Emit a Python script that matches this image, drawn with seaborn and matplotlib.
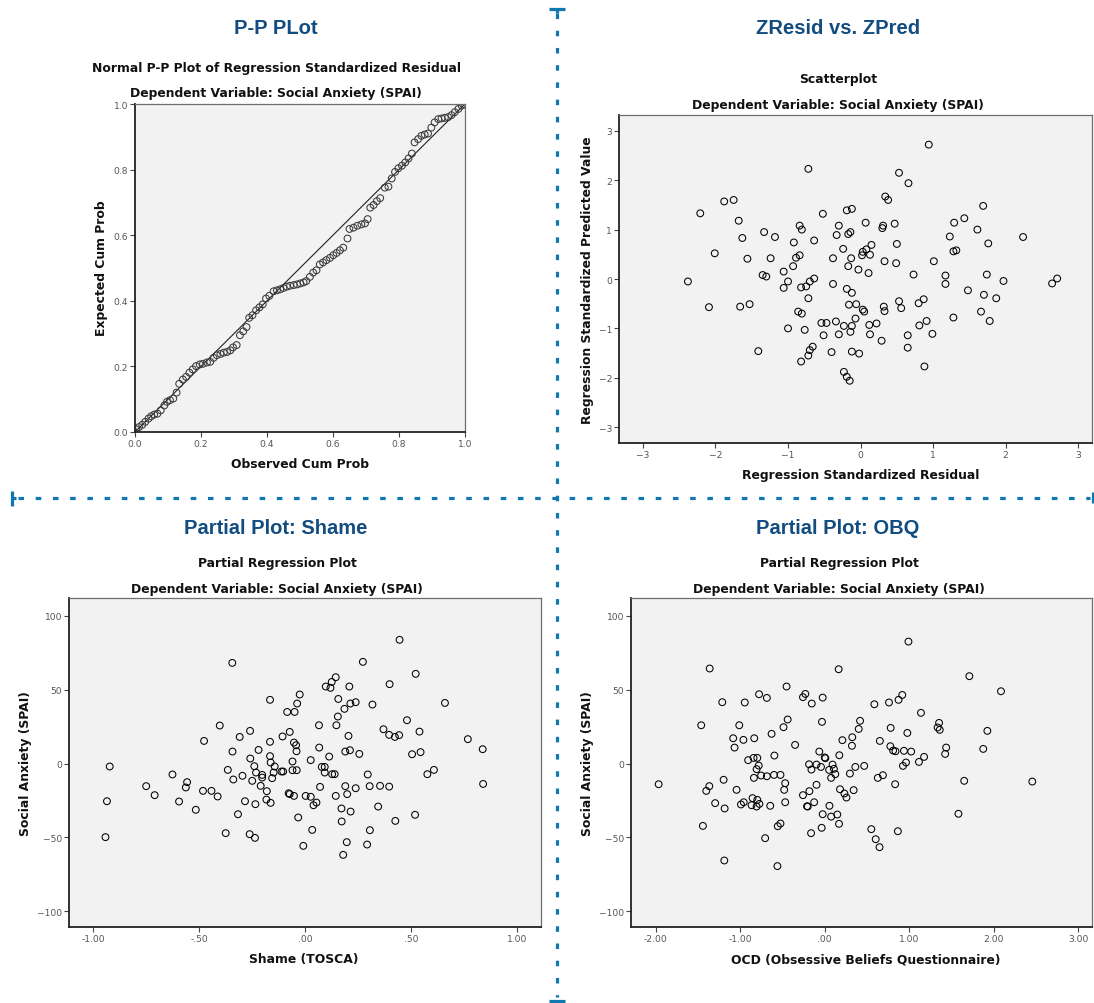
import matplotlib
matplotlib.use("Agg")
import matplotlib.pyplot as plt
from matplotlib.lines import Line2D
import seaborn as sns

W, H = 1094, 1004

# ---- P-P plot (observed vs expected cumulative probability)
pp_observed = [0.004, 0.012, 0.022, 0.031, 0.041, 0.049, 0.058, 0.068, 0.078, 0.089,
               0.097, 0.106, 0.116, 0.126, 0.134, 0.145, 0.155, 0.165, 0.175, 0.185,
               0.196, 0.206, 0.218, 0.228, 0.238, 0.248, 0.259, 0.269, 0.279, 0.289,
               0.297, 0.308, 0.318, 0.328, 0.338, 0.346, 0.356, 0.367, 0.377, 0.387,
               0.397, 0.407, 0.420, 0.430, 0.440, 0.450, 0.460, 0.470, 0.481, 0.491,
               0.501, 0.511, 0.519, 0.530, 0.540, 0.550, 0.560, 0.570, 0.580, 0.591,
               0.601, 0.611, 0.621, 0.631, 0.644, 0.650, 0.662, 0.674, 0.686, 0.697,
               0.705, 0.713, 0.723, 0.733, 0.743, 0.757, 0.768, 0.778, 0.788, 0.798,
               0.809, 0.819, 0.829, 0.839, 0.847, 0.858, 0.868, 0.878, 0.888, 0.898,
               0.908, 0.919, 0.929, 0.939, 0.949, 0.959, 0.969, 0.980, 0.990, 0.998]
pp_expected = [0.008, 0.015, 0.022, 0.031, 0.041, 0.048, 0.053, 0.056, 0.066, 0.081,
               0.092, 0.097, 0.102, 0.120, 0.147, 0.160, 0.168, 0.181, 0.191, 0.201,
               0.206, 0.208, 0.212, 0.214, 0.226, 0.234, 0.238, 0.242, 0.244, 0.249,
               0.258, 0.265, 0.295, 0.307, 0.320, 0.348, 0.356, 0.371, 0.380, 0.389,
               0.407, 0.415, 0.429, 0.432, 0.435, 0.439, 0.443, 0.446, 0.448, 0.450,
               0.453, 0.456, 0.460, 0.473, 0.486, 0.493, 0.511, 0.517, 0.524, 0.531,
               0.539, 0.546, 0.554, 0.562, 0.590, 0.619, 0.623, 0.629, 0.633, 0.636,
               0.649, 0.684, 0.692, 0.704, 0.713, 0.745, 0.748, 0.773, 0.793, 0.804,
               0.812, 0.822, 0.834, 0.849, 0.883, 0.893, 0.903, 0.907, 0.910, 0.928,
               0.944, 0.954, 0.956, 0.958, 0.960, 0.966, 0.975, 0.985, 0.995, 0.999]

# ---- ZResid vs. ZPred
zresid = [0.94, -0.72, 0.53, 0.66, 0.34, 0.38, -1.88, -1.75, -2.21, -1.68,
          -1.63, -1.33, -1.18, -2.01, -1.56, -1.24, -2.38, -1.35, -1.30, -1.06,
          -1.00, -1.06, -2.09, -1.66, -1.53, -1.41, -0.92, -0.84, -0.81, -0.64,
          -0.52, -0.89, -0.84, -0.93, -0.82, -0.75, -0.70, -0.64, -0.72, -0.86,
          -0.81, -1.00, -0.77, -0.51, -0.66, -0.70, -0.72, -0.82, -0.54, -0.47,
          -0.34, -0.40, -0.30, -0.33, -0.19, -0.12, -0.17, -0.14, -0.24, -0.38,
          -0.13, -0.17, -0.03, -0.38, -0.19, -0.12, -0.16, -0.06, 0.03, 0.05,
          -0.07, -0.23, -0.12, -0.14, -0.30, -0.12, -0.02, -0.23, -0.19, -0.15,
          0.07, 0.03, 0.08, 0.02, 0.15, 0.13, 0.11, 0.31, 0.30, 0.47,
          0.33, 0.50, 0.49, 0.12, 0.22, 0.13, 0.32, 0.33, 0.29, 0.53,
          0.56, 0.65, 0.65, 0.73, 0.80, 0.87, 0.81, 0.91, 0.99, 0.88,
          1.01, 1.17, 1.17, 1.28, 1.23, 1.29, 1.43, 1.28, 1.32, 1.48,
          1.61, 1.69, 1.76, 1.74, 1.70, 1.66, 1.78, 1.87, 1.97, 2.24,
          2.64, 2.71]
zpred = [2.72, 2.23, 2.15, 1.94, 1.67, 1.60, 1.57, 1.60, 1.33, 1.18,
         0.83, 0.95, 0.85, 0.52, 0.41, 0.42, -0.05, 0.08, 0.05, 0.15,
         -0.05, -0.18, -0.57, -0.56, -0.51, -1.46, 0.74, 1.08, 1.00, 0.78,
         1.32, 0.43, 0.48, 0.26, -0.17, -0.15, -0.05, 0.01, -0.39, -0.66,
         -0.70, -1.00, -1.03, -1.14, -1.37, -1.44, -1.55, -1.67, -0.89, -0.89,
         -0.86, -1.48, 1.08, 0.89, 1.39, 1.42, 0.91, 0.95, 0.61, 0.42,
         0.42, 0.26, 0.19, -0.10, -0.20, -0.28, -0.52, -0.51, -0.62, -0.66,
         -0.80, -0.95, -0.95, -1.07, -1.12, -1.47, -1.51, -1.88, -1.98, -2.06,
         1.14, 0.55, 0.60, 0.48, 0.69, 0.49, 0.12, 1.08, 1.03, 1.12,
         0.36, 0.71, 0.32, -0.93, -0.90, -1.12, -0.56, -0.65, -1.25, -0.45,
         -0.59, -1.14, -1.39, 0.09, -0.49, -0.41, -0.94, -0.85, -1.11, -1.77,
         0.36, 0.07, -0.10, -0.78, 0.86, 1.14, 1.23, 0.56, 0.58, -0.23,
         1.00, 1.48, 0.72, 0.09, -0.32, -0.66, -0.85, -0.39, -0.04, 0.85,
         -0.09, 0.01]

# ---- Partial plot: Shame
shame_x = [0.446, -0.343, 0.273, 0.522, 0.145, 0.098, 0.120, 0.126, 0.209, 0.399,
           -0.025, -0.165, -0.037, -0.084, -0.049, 0.157, 0.186, 0.214, 0.239, 0.318,
           0.660, 0.155, 0.148, 0.066, 0.481, 0.370, 0.397, 0.424, 0.444, 0.540,
           0.768, 0.838, 0.505, 0.545, 0.205, 0.190, 0.212, 0.256, 0.114, 0.027,
           0.067, -0.402, -0.259, -0.308, -0.476, -0.165, -0.106, -0.072, -0.052, -0.042,
           -0.040, -0.219, -0.342, -0.258, -0.165, -0.162, -0.143, -0.059, -0.239, -0.364,
           -0.231, -0.148, -0.111, -0.103, -0.059, -0.039, -0.202, -0.202, -0.155, -0.295,
           -0.338, -0.249, -0.625, -0.921, -0.749, -0.709, -0.556, -0.562, -0.481, -0.441,
           -0.412, -0.594, -0.515, -0.934, -0.941, -0.209, -0.180, -0.182, -0.162, -0.234,
           -0.283, -0.316, -0.374, -0.261, -0.236, -0.077, -0.072, -0.052, 0.003, 0.027,
           0.054, 0.040, 0.071, 0.079, 0.093, 0.093, 0.128, 0.140, 0.145, 0.190,
           0.199, 0.239, 0.172, 0.215, 0.173, -0.032, 0.034, -0.008, 0.197, 0.180,
           0.296, 0.305, 0.354, 0.397, 0.345, 0.306, 0.293, 0.426, 0.519, 0.577,
           0.608, 0.840]
shame_y = [83.7, 68.1, 68.8, 60.7, 58.4, 52.1, 51.2, 55.2, 52.1, 53.7,
           46.7, 43.1, 40.6, 34.9, 34.9, 43.7, 37.0, 40.6, 41.5, 39.9,
           41.0, 31.8, 25.9, 25.9, 29.3, 23.2, 19.4, 18.0, 19.2, 21.6,
           16.5, 9.7, 6.3, 7.7, 18.7, 8.1, 9.0, 6.5, 4.7, 2.3,
           10.8, 25.7, 22.1, 18.0, 15.3, 14.7, 18.3, 21.4, 14.2, 12.4,
           8.3, 9.2, 8.1, 3.4, 5.0, 0.7, -2.0, 1.4, -1.8, -4.3,
           -6.1, -6.1, -5.4, -5.4, -4.5, -4.5, -7.7, -9.5, -9.9, -8.3,
           -10.8, -11.7, -7.4, -2.0, -15.3, -21.4, -12.6, -16.2, -18.5, -18.5,
           -22.3, -25.7, -31.3, -25.5, -49.8, -15.1, -18.7, -24.4, -26.6, -27.5,
           -25.5, -34.3, -47.1, -47.8, -50.3, -20.1, -20.7, -21.9, -21.9, -22.5,
           -26.4, -28.2, -15.8, -2.3, -2.3, -6.1, -7.2, -7.2, -21.9, -15.3,
           -20.7, -16.7, -30.4, -32.5, -39.2, -36.5, -44.9, -55.7, -53.2, -61.8,
           -7.4, -15.3, -15.1, -15.6, -29.1, -45.1, -54.8, -38.8, -34.7, -7.2,
           -4.3, -13.8]

# ---- Partial plot: OBQ
obq_x = [0.990, -1.360, 0.165, 1.710, 2.084, -0.451, -0.776, -0.684, -0.257, -0.229,
         -0.153, -0.024, -1.211, -0.945, 0.587, 0.760, 0.873, 0.917, 1.138, -1.460,
         -1.010, -0.438, -0.487, -0.032, 0.418, 0.402, 0.780, 1.352, 1.335, 1.360,
         1.923, 0.977, -0.628, -1.082, -0.961, -0.833, -1.066, -0.350, 0.326, 0.322,
         0.209, 0.652, 0.776, 0.809, 0.837, 0.937, 1.022, 1.436, 1.424, 1.874,
         -0.064, -0.595, 0.173, 0.000, 0.008, -0.905, -0.841, -0.797, -0.780, -0.805,
         -0.837, -0.752, -0.684, -0.599, -0.523, -0.185, -0.097, -0.044, -0.157, 0.093,
         0.109, 0.125, 0.052, 0.076, 0.298, 0.362, 0.467, 0.628, 0.688, 0.925,
         0.961, 1.114, 1.175, 0.833, 1.649, 2.454, -1.963, -1.195, -1.364, -1.400,
         -1.042, -1.295, -1.183, -0.990, -0.957, -0.853, -0.865, -0.797, -0.805, -0.772,
         -0.644, -0.467, -0.479, -0.467, -0.097, -0.181, -0.257, -0.209, -0.201, -0.125,
         0.056, -0.024, 0.076, 0.149, 0.181, 0.233, 0.257, 0.342, 0.169, -0.036,
         -0.161, -0.523, -0.555, -0.704, -1.440, -1.187, -0.559, 0.551, 0.603, 0.648,
         0.865, 1.581]
obq_y = [82.5, 64.3, 63.8, 59.1, 48.9, 52.1, 46.9, 44.4, 44.9, 47.1,
         40.6, 44.6, 41.5, 41.3, 40.1, 41.3, 43.1, 46.4, 34.3, 25.9,
         25.9, 29.8, 24.6, 28.2, 28.9, 23.4, 24.1, 27.5, 24.4, 22.8,
         22.1, 20.7, 20.1, 17.1, 16.0, 17.1, 10.8, 12.6, 17.8, 12.0,
         15.8, 15.3, 11.7, 8.8, 8.3, 8.6, 8.1, 10.8, 6.5, 9.9,
         8.1, 5.4, 5.6, 4.1, 3.6, 2.3, 3.8, 3.8, -1.4, -3.8,
         -9.7, -8.1, -8.6, -7.7, -7.7, -0.5, -0.7, -2.3, -4.1, -0.7,
         -3.6, -7.2, -4.3, -9.7, -6.8, -2.3, -1.6, -9.7, -7.9, -1.6,
         0.7, 1.1, 4.5, -14.0, -11.7, -12.2, -14.0, -11.0, -15.3, -18.5,
         -17.8, -26.8, -30.4, -27.7, -26.2, -23.4, -28.2, -24.6, -29.1, -27.3,
         -28.6, -13.3, -17.8, -26.2, -14.4, -18.7, -21.4, -28.9, -29.1, -26.2,
         -28.6, -34.3, -35.9, -34.5, -17.4, -20.3, -23.0, -18.0, -40.8, -43.5,
         -47.1, -40.6, -42.4, -50.5, -42.2, -65.6, -69.4, -44.4, -51.2, -56.6,
         -45.8, -34.0]

pp_ticks = [0.0, 0.2, 0.4, 0.6, 0.8, 1.0]
pp_ticklabels = ["0.0", "0.2", "0.4", "0.6", "0.8", "1.0"]
z_ticks = [-3, -2, -1, 0, 1, 2, 3]
spai_ticks = [-100, -50, 0, 50, 100]
shame_ticks = [-1.0, -0.5, 0.0, 0.5, 1.0]
shame_ticklabels = ["-1.00", "-.50", ".00", ".50", "1.00"]
obq_ticks = [-2, -1, 0, 1, 2, 3]
obq_ticklabels = ["-2.00", "-1.00", ".00", "1.00", "2.00", "3.00"]

sns.set_theme(style="ticks")
plt.rcParams["font.family"] = ["DejaVu Sans"]
plt.rcParams["lines.scale_dashes"] = False

TITLE_BLUE = "#124c80"
LINE_BLUE = "#0f78b0"
SUB = dict(fontsize=8.9, fontweight="bold", color="#111111")

fig = plt.figure(figsize=(W / 100, H / 100), dpi=100)


def box(x0, y0, x1, y1):
    return [x0 / W, 1 - y1 / H, (x1 - x0) / W, (y1 - y0) / H]


def put(x, y, s, **kw):
    fig.text(x / W, 1 - y / H, s, ha="center", va="center", **kw)


def style(ax):
    ax.set_facecolor("#f2f2f2")
    for side in ["left", "bottom"]:
        ax.spines[side].set_color("#222222")
        ax.spines[side].set_linewidth(1.3)
    for side in ["top", "right"]:
        ax.spines[side].set_visible(True)
        ax.spines[side].set_color("#6e6e6e")
        ax.spines[side].set_linewidth(0.9)
    ax.tick_params(direction="out", length=3.5, width=0.8, color="#444444",
                   labelsize=6.6, labelcolor="#555555", pad=1.5)
    ax.set_xlabel("")
    ax.set_ylabel("")


def scatter(ax, x, y, ec="black"):
    sns.scatterplot(x=x, y=y, ax=ax, s=24, marker="o", facecolor="none",
                    edgecolor=ec, linewidth=0.75, legend=False)


# panel 1: P-P plot
ax1 = fig.add_axes(box(135, 105, 465, 433))
ax1.plot([0, 1], [0, 1], color="#222222", lw=0.8, zorder=1)
scatter(ax1, pp_observed, pp_expected, ec="#3a3a3a")
ax1.set_xlim(0, 1)
ax1.set_ylim(0, 1)
ax1.set_xticks(pp_ticks, pp_ticklabels)
ax1.set_yticks(pp_ticks, pp_ticklabels)
style(ax1)
put(276, 28, "P-P PLot", fontsize=14.5, fontweight="bold", color=TITLE_BLUE, family="Liberation Sans")
put(276, 69, "Normal P-P Plot of Regression Standardized Residual", **SUB)
put(276, 94, "Dependent Variable: Social Anxiety (SPAI)", **SUB)
put(300, 464, "Observed Cum Prob", **SUB)
put(102, 268, "Expected Cum Prob", rotation=90, **SUB)

# panel 2: ZResid vs. ZPred
ax2 = fig.add_axes(box(619, 116, 1092, 444))
scatter(ax2, zresid, zpred)
ax2.set_xlim(-3.33, 3.19)
ax2.set_ylim(-3.32, 3.32)
ax2.set_xticks(z_ticks)
ax2.set_yticks(z_ticks)
style(ax2)
put(838, 28, "ZResid vs. ZPred", fontsize=14.5, fontweight="bold", color=TITLE_BLUE, family="Liberation Sans")
put(838, 80, "Scatterplot", **SUB)
put(838, 105, "Dependent Variable: Social Anxiety (SPAI)", **SUB)
put(861, 475, "Regression Standardized Residual", **SUB)
put(588, 280, "Regression Standardized Predicted Value", rotation=90, **SUB)

# panel 3: partial plot, shame
ax3 = fig.add_axes(box(69, 599, 541, 928))
scatter(ax3, shame_x, shame_y)
ax3.set_xlim(-1.113, 1.113)
ax3.set_ylim(-110.6, 112)
ax3.set_xticks(shame_ticks, shame_ticklabels)
ax3.set_yticks(spai_ticks)
style(ax3)
put(276, 528, "Partial Plot: Shame", fontsize=14.5, fontweight="bold", color=TITLE_BLUE, family="Liberation Sans")
put(277, 564, "Partial Regression Plot", **SUB)
put(277, 589, "Dependent Variable: Social Anxiety (SPAI)", **SUB)
put(304, 960, "Shame (TOSCA)", **SUB)
put(26, 764, "Social Anxiety (SPAI)", rotation=90, **SUB)

# panel 4: partial plot, OBQ
ax4 = fig.add_axes(box(631, 599, 1092, 928))
scatter(ax4, obq_x, obq_y)
ax4.set_xlim(-2.29, 3.16)
ax4.set_ylim(-110.6, 112)
ax4.set_xticks(obq_ticks, obq_ticklabels)
ax4.set_yticks(spai_ticks)
style(ax4)
put(838, 528, "Partial Plot: OBQ", fontsize=14.5, fontweight="bold", color=TITLE_BLUE, family="Liberation Sans")
put(839, 564, "Partial Regression Plot", **SUB)
put(839, 589, "Dependent Variable: Social Anxiety (SPAI)", **SUB)
put(866, 960, "OCD (Obsessive Beliefs Questionnaire)", **SUB)
put(588, 764, "Social Anxiety (SPAI)", rotation=90, **SUB)

# dotted separators with end caps
dash = dict(color=LINE_BLUE, lw=2.3, linestyle=(0, (4.0, 8.4)), dash_capstyle="butt",
            transform=fig.transFigure)
cap = dict(color=LINE_BLUE, lw=2.3, solid_capstyle="butt", transform=fig.transFigure)
fig.add_artist(Line2D([557 / W, 557 / W], [1 - 14 / H, 1 - 998 / H], **dash))
fig.add_artist(Line2D([18 / W, 1090 / W], [1 - 499 / H, 1 - 499 / H], **dash))
fig.add_artist(Line2D([549 / W, 565 / W], [1 - 10 / H, 1 - 10 / H], **cap))
fig.add_artist(Line2D([557 / W, 557 / W], [1 - 10 / H, 1 - 14 / H], **cap))
fig.add_artist(Line2D([549 / W, 565 / W], [1 - 1002 / H, 1 - 1002 / H], **cap))
fig.add_artist(Line2D([12 / W, 12 / W], [1 - 492 / H, 1 - 507 / H], **cap))
fig.add_artist(Line2D([12 / W, 16 / W], [1 - 499 / H, 1 - 499 / H], **cap))
fig.add_artist(Line2D([1093 / W, 1093 / W], [1 - 493 / H, 1 - 504 / H], **cap))

fig.savefig("out.png", dpi=100, facecolor="white")
